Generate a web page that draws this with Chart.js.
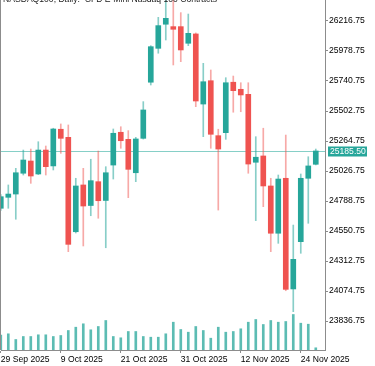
<!DOCTYPE html>
<html lang="en-US">

<head>
	<meta charset="utf-8">
	<title>NASDAQ100 Daily</title>
	<script src="https://cdn.jsdelivr.net/npm/chart.js@4"></script>
	<style>
		body { margin: 0; background: #fff; }
		#holder { width: 375px; height: 366px; }
	</style>
</head>

<body>
	<div id="holder">
		<canvas id="chart"></canvas>
	</div>
	<script>
		const title = 'NASDAQ100, Daily:  CFD E-Mini Nasdaq 100 Contracts';

		const dates = [
			'29 Sep 2025', '30 Sep 2025', '1 Oct 2025', '2 Oct 2025', '3 Oct 2025',
			'6 Oct 2025', '7 Oct 2025', '8 Oct 2025', '9 Oct 2025', '10 Oct 2025',
			'13 Oct 2025', '14 Oct 2025', '15 Oct 2025', '16 Oct 2025', '17 Oct 2025',
			'20 Oct 2025', '21 Oct 2025', '22 Oct 2025', '23 Oct 2025', '24 Oct 2025',
			'27 Oct 2025', '28 Oct 2025', '29 Oct 2025', '30 Oct 2025', '31 Oct 2025',
			'3 Nov 2025', '4 Nov 2025', '5 Nov 2025', '6 Nov 2025', '7 Nov 2025',
			'10 Nov 2025', '11 Nov 2025', '12 Nov 2025', '13 Nov 2025', '14 Nov 2025',
			'17 Nov 2025', '18 Nov 2025', '19 Nov 2025', '20 Nov 2025', '21 Nov 2025',
			'24 Nov 2025', '25 Nov 2025', '26 Nov 2025'
		];
		const labelIdx = [0, 8, 16, 24, 32, 40];

		const open = [24731, 24818, 24844, 25009, 25106, 25003, 25193, 25067, 25358, 25294,
			24545, 24916, 24753, 24942, 24793, 25074, 25334, 25278, 25013, 25286,
			25731, 26000, 26191, 26172, 26172, 26040, 26114, 25558, 25743, 25307,
			25331, 25731, 25675, 25635, 25096, 25146, 24908, 24533, 24969, 24091,
			24466, 24969, 25080];
		const high = [24840, 24916, 25048, 25193, 25201, 25259, 25225, 25366, 25400, 25392,
			24969, 25048, 25120, 25185, 25061, 25360, 25378, 25347, 25294, 25577,
			26021, 26246, 26420, 26420, 26283, 26272, 26122, 25881, 25828, 25358,
			25767, 25780, 25727, 25727, 25299, 25366, 24969, 24995, 25312, 24598,
			25003, 25140, 25201];
		const low = [24715, 24731, 24644, 24995, 24929, 24998, 24995, 25035, 25167, 24387,
			24535, 24432, 24672, 24652, 24418, 24963, 25207, 24815, 24942, 25280,
			25709, 25961, 26066, 25868, 25894, 26021, 25537, 25299, 25207, 24717,
			25278, 25493, 25497, 25009, 24633, 24744, 24387, 24453, 24077, 23911,
			24374, 24612, 25075];
		const close = [24823, 24844, 25013, 25114, 24987, 25193, 25061, 25360, 25286, 24445,
			24908, 24749, 24950, 24791, 25013, 25326, 25267, 25040, 25281, 25511,
			26013, 26180, 26238, 26151, 25987, 26119, 25582, 25735, 25318, 25201,
			25727, 25664, 25630, 25082, 25136, 24908, 24533, 24963, 24088, 24326,
			24969, 25067, 25185.5];
		const volume = [15000, 16200, 10500, 13500, 13500, 15200, 15200, 13500, 14500, 19500,
			22800, 26200, 20200, 23500, 29500, 13500, 12200, 18500, 18500, 13500,
			12800, 12800, 16200, 27800, 20500, 17800, 23500, 19500, 11800, 22800,
			17800, 18500, 21200, 27800, 30500, 25500, 29500, 27800, 28500, 35500,
			26800, 25800, 2200];

		const yTicks = [23836.75, 24074.75, 24312.75, 24550.75, 24788.75, 25026.75,
			25264.75, 25502.75, 25740.75, 25978.75, 26216.75];

		const UP = '#26a69a';
		const DOWN = '#ef5350';
		const UP_WICK = 'rgba(38,166,154,0.55)';
		const DOWN_WICK = 'rgba(239,83,80,0.5)';
		const AXIS = '#8c8c8c';
		const FONT = { family: '"Liberation Sans", Arial, sans-serif', size: 8.6 };

		const isUp = open.map((o, i) => close[i] >= o);

		const chartDecor = {
			id: 'chartDecor',
			beforeDatasetsDraw(chart) {
				const { ctx, chartArea, scales } = chart;
				const last = close[close.length - 1];
				const y = Math.round(scales.y.getPixelForValue(last)) + 0.5;
				ctx.save();
				ctx.strokeStyle = '#86cfc7';
				ctx.lineWidth = 1;
				ctx.beginPath();
				ctx.moveTo(chartArea.left, y);
				ctx.lineTo(chartArea.right, y);
				ctx.stroke();
				ctx.restore();
			},
			afterDraw(chart) {
				const { ctx, chartArea, scales } = chart;
				const last = close[close.length - 1];
				const y = Math.round(scales.y.getPixelForValue(last)) + 0.5;
				ctx.save();
				// left frame line
				ctx.strokeStyle = AXIS;
				ctx.lineWidth = 1;
				ctx.beginPath();
				ctx.moveTo(0.5, 0);
				ctx.lineTo(0.5, chartArea.bottom);
				ctx.stroke();
				// last price tag
				ctx.fillStyle = UP;
				ctx.fillRect(chartArea.right + 3, y - 5, 39, 10);
				ctx.fillStyle = '#fff';
				ctx.font = FONT.size + 'px ' + FONT.family;
				ctx.textBaseline = 'middle';
				ctx.fillText(last.toFixed(2), chartArea.right + 5, y + 0.5);
				// title, cut by the top edge
				ctx.fillStyle = '#222';
				ctx.textBaseline = 'alphabetic';
				ctx.fillText(title, 3, 2);
				ctx.restore();
			}
		};

		const config = {
			type: 'bar',
			data: {
				datasets: [{
					label: 'body',
					data: open.map((o, i) => ({ x: i, y: [o, close[i]] })),
					backgroundColor: isUp.map(u => u ? UP : DOWN),
					barThickness: 5,
					order: 0
				}, {
					label: 'wick',
					data: low.map((l, i) => ({ x: i, y: [l, high[i]] })),
					backgroundColor: isUp.map(u => u ? UP_WICK : DOWN_WICK),
					barThickness: 1,
					order: 1
				}, {
					label: 'volume',
					data: volume.map((v, i) => ({ x: i, y: v })),
					backgroundColor: 'rgba(38,166,154,0.75)',
					barThickness: 2,
					yAxisID: 'yv',
					order: 2
				}]
			},
			options: {
				responsive: true,
				maintainAspectRatio: false,
				animation: false,
				events: [],
				grouped: false,
				layout: { padding: { left: 1, top: 0, right: 0, bottom: 0 } },
				plugins: {
					legend: { display: false },
					tooltip: { enabled: false }
				},
				scales: {
					x: {
						type: 'linear',
						min: 0.027,
						max: 43.23,
						offset: false,
						afterBuildTicks: s => { s.ticks = labelIdx.map(v => ({ value: v })); },
						afterFit: s => { s.height = 16; s.paddingLeft = 0; s.paddingRight = 0; },
						ticks: {
							autoSkip: false,
							maxRotation: 0,
							align: 'start',
							padding: 1,
							color: '#000',
							font: FONT,
							callback: v => dates[v]
						},
						grid: { drawOnChartArea: false, offset: false, tickLength: 3, color: AXIS },
						border: { color: AXIS }
					},
					y: {
						position: 'right',
						min: 23606.8,
						max: 26383.3,
						afterBuildTicks: s => { s.ticks = yTicks.map(v => ({ value: v })); },
						afterFit: s => { s.width = 50; s.paddingTop = 0; s.paddingBottom = 0; },
						ticks: {
							padding: 1,
							color: '#000',
							font: FONT,
							callback: v => v.toFixed(2)
						},
						grid: { drawOnChartArea: false, tickLength: 3, color: AXIS },
						border: { color: AXIS }
					},
					yv: {
						display: false,
						min: 0,
						max: 350000
					}
				}
			}
		};

		new Chart(document.getElementById('chart'), { ...config, plugins: [chartDecor] });
	</script>
</body>

</html>
